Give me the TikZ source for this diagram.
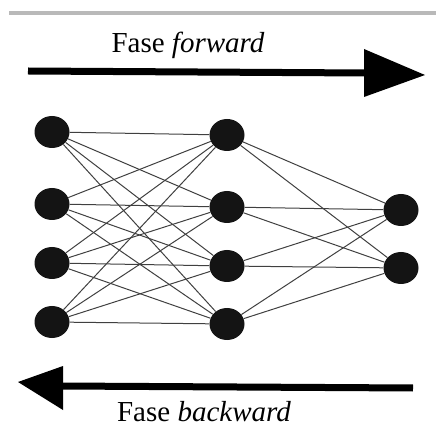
\documentclass[tikz,border=0pt]{standalone}
\usepackage{fontspec}
\setmainfont{Liberation Serif}
\usetikzlibrary{positioning, shapes.geometric}

\begin{document}
\begin{tikzpicture}[x=1pt, y=-1pt, every node/.style={align=center},
    neuron/.style={ellipse, fill=black!92, minimum width=35pt, minimum height=32pt, inner sep=0pt},
    link/.style={black!75, line width=1pt},
    shaft/.style={line width=7pt},
    phaselabel/.style={font=\fontsize{29}{34}\selectfont}]
    \useasboundingbox (0,0) rectangle (436,427);

    % rule at the top
    \draw[gray!55, line width=3.5pt] (9,13) -- (436,13);

    % forward phase
    \node (fwd_label) [phaselabel] at (188,45) {Fase \textit{forward}};
    \coordinate (fwd_start) at (28,71);
    \coordinate (fwd_neck) at (364,73);
    \coordinate (fwd_end) at (425,75);
    \draw[shaft] (fwd_start) -- ([xshift=2]fwd_neck);
    \fill (fwd_end) -- ([yshift=-24]fwd_neck) -- ([yshift=24]fwd_neck) -- cycle;

    % input layer
    \node (in1) [neuron] at (52,132) {};
    \node (in2) [neuron] at (52,204) {};
    \node (in3) [neuron] at (52,263) {};
    \node (in4) [neuron] at (52,322) {};

    % hidden layer
    \node (hid1) [neuron] at (227,135) {};
    \node (hid2) [neuron] at (227,207) {};
    \node (hid3) [neuron] at (227,266) {};
    \node (hid4) [neuron] at (227,324) {};

    % output layer
    \node (out1) [neuron] at (401,210) {};
    \node (out2) [neuron] at (401,268) {};

    % weights
    \foreach \i in {1,...,4}
        \foreach \j in {1,...,4}
            \draw[link] (in\i) -- (hid\j);
    \foreach \j in {1,...,4}
        \foreach \k in {1,2}
            \draw[link] (hid\j) -- (out\k);

    % backward phase
    \coordinate (bwd_start) at (413,388);
    \coordinate (bwd_neck) at (63,386);
    \coordinate (bwd_end) at (18,382);
    \draw[shaft] (bwd_start) -- ([xshift=-2]bwd_neck);
    \fill (bwd_end) -- ([yshift=-24]bwd_neck) -- ([yshift=20]bwd_neck) -- cycle;
    \node (bwd_label) [phaselabel] at (204,412) {Fase \textit{backward}};
\end{tikzpicture}
\end{document}
